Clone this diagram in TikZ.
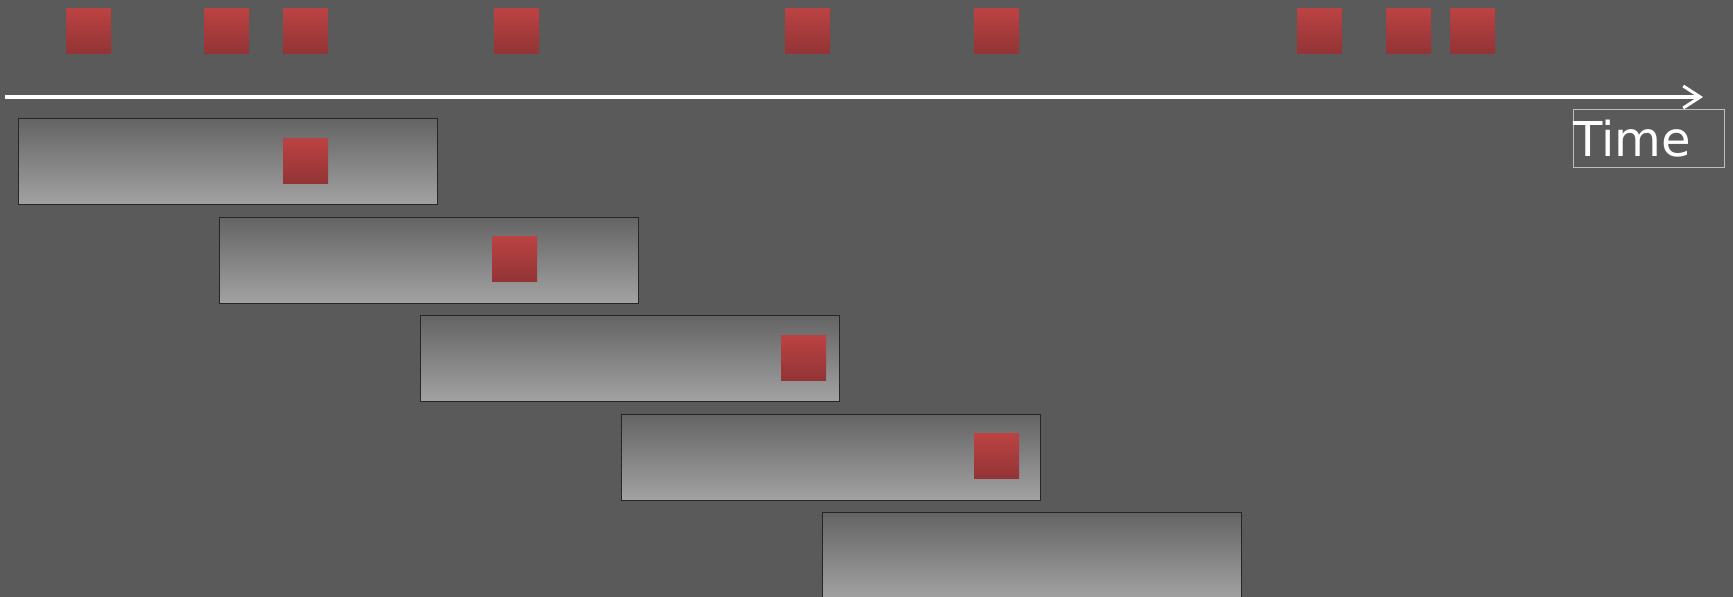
\documentclass[tikz,border=0pt]{standalone}
\usepackage{fontspec}
\setsansfont{DejaVu Sans}
\usepackage{tikz}
\usetikzlibrary{arrows.meta}
\definecolor{stagebg}{RGB}{90,90,90}
\definecolor{wintop}{RGB}{100,100,100}
\definecolor{winbottom}{RGB}{162,162,162}
\definecolor{evtop}{RGB}{188,66,66}
\definecolor{evbottom}{RGB}{146,52,54}
\definecolor{labelgray}{RGB}{190,190,190}

\begin{document}
\begin{tikzpicture}[x=1pt,y=-1pt,
        window/.style={draw=black!85,line width=1.1pt,top color=wintop,bottom color=winbottom,minimum width=419pt,minimum height=86pt,inner sep=0pt,anchor=north west},
        event/.style={top color=evtop,bottom color=evbottom,minimum size=45pt,inner sep=0pt,anchor=north west},
        timeline/.style={white,line width=4pt,-{Straight Barb[length=17pt,width=22pt,line width=3pt]}},
        timelabel/.style={draw=labelgray,line width=0.8pt,text=white,font=\sffamily\fontsize{48}{56}\selectfont,text width=151pt,align=left,minimum height=58pt,inner sep=0pt,anchor=north west}
      ]
        \useasboundingbox (0,0) rectangle (1733,597);
        \clip (0,0) rectangle (1733,597);
        \fill[stagebg] (0,0) rectangle (1733,597);

        % events along the time axis
        \foreach \x [count=\i] in {66,204,283,494,785,974,1297,1386,1450}
          \node[event] (e\i) at (\x,8) {};

        \coordinate (tstart) at (5,97);
        \coordinate (tend) at (1703,97);
        \draw[timeline] (tstart) -- (tend);
        \node[timelabel] (time) at (1573,109) {Time};

        % sliding windows
        \foreach \i in {0,...,4}
          \node[window] (w\i) at ({18+201*\i},{118+98.5*\i}) {};

        \foreach \w/\x [count=\i] in {w0/283,w1/492,w2/781,w3/974}
          \node[event,yshift=-20pt] (s\i) at (\x,0 |- \w.north west) {};
      \end{tikzpicture}
\end{document}
